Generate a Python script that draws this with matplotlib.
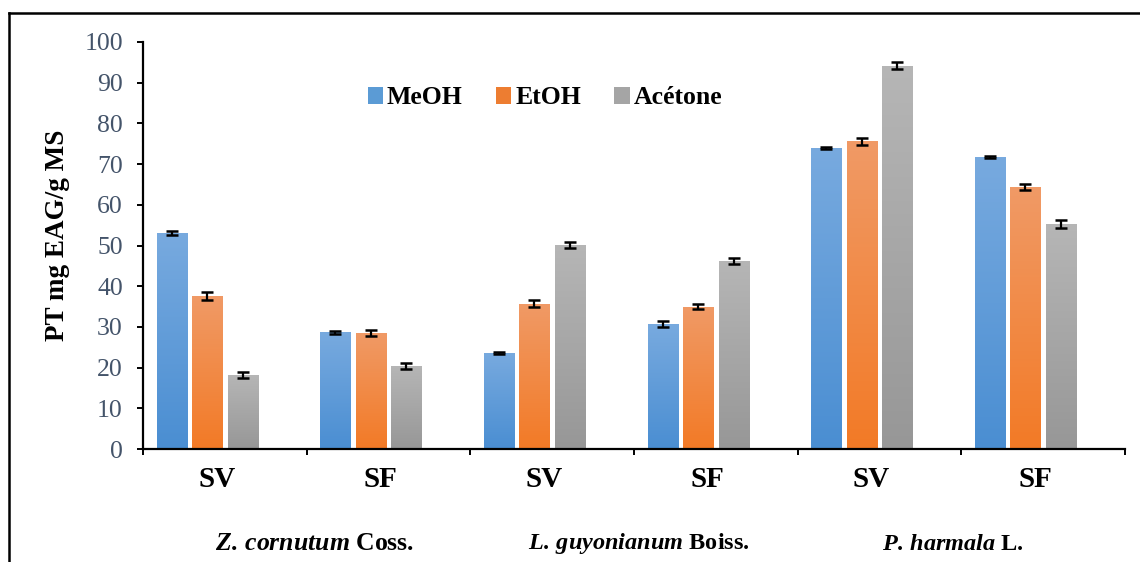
import numpy as np
import matplotlib
matplotlib.use('Agg')
import matplotlib.pyplot as plt
from matplotlib.colors import LinearSegmentedColormap
from matplotlib.lines import Line2D
from matplotlib.patches import Patch
import matplotlib.transforms as mtransforms

# ---------------- data ----------------
categories = ['SV', 'SF', 'SV', 'SF', 'SV', 'SF']
species = [r'$Z.\,cornutum$ Coss.', r'$L.\,guyonianum$ Boiss.', r'$P.\,harmala$ L.']
series = ['MeOH', 'EtOH', 'Acétone']
meoh = [53.1, 28.7, 23.6, 30.7, 74.0, 71.7]
meoh_err = [0.4, 0.4, 0.2, 0.7, 0.3, 0.3]
etoh = [37.5, 28.5, 35.7, 35.0, 75.6, 64.3]
etoh_err = [1.0, 0.7, 0.85, 0.7, 0.8, 0.75]
acetone = [18.2, 20.4, 50.2, 46.2, 94.2, 55.3]
acetone_err = [0.75, 0.7, 0.7, 0.7, 0.8, 1.0]
yticks = list(range(0, 101, 10))
ylabel = 'PT mg EAG/g MS'

values = [meoh, etoh, acetone]
errors = [meoh_err, etoh_err, acetone_err]
grad = [('#4A8ED2', '#78AADF'), ('#F37A26', '#F09A66'), ('#979797', '#B6B6B6')]
legend_cols = ['#5B9BD5', '#ED7D31', '#A5A5A5']

plt.rcParams['font.family'] = ['Liberation Serif', 'DejaVu Serif']
plt.rcParams['mathtext.fontset'] = 'custom'
plt.rcParams['mathtext.it'] = 'Liberation Serif:italic:bold'
plt.rcParams['mathtext.rm'] = 'Liberation Serif:bold'
plt.rcParams['mathtext.bf'] = 'Liberation Serif:bold'

W, H = 1140, 562
fig = plt.figure(figsize=(W / 100, H / 100), dpi=100)
ax = fig.add_axes([143 / W, 1 - 449 / H, (1125 - 143) / W, (449 - 42) / H])

x = np.arange(len(categories))
step = 0.217
width = 0.1835
offsets = [-1.5 * step, -0.5 * step, 0.5 * step]

gradient = np.linspace(1, 0, 256).reshape(-1, 1)
for s in range(3):
    cmap = LinearSegmentedColormap.from_list('g%d' % s, list(grad[s]))
    bars = ax.bar(x + offsets[s], values[s], width, facecolor='none', edgecolor='none', zorder=1)
    for b in bars:
        x0, w_, h_ = b.get_x(), b.get_width(), b.get_height()
        im = ax.imshow(gradient, cmap=cmap, extent=(x0, x0 + w_, 0, h_), aspect='auto',
                       origin='upper', zorder=1.5, interpolation='bilinear', vmin=0, vmax=1)
        im.set_clip_path(b)
    ax.errorbar(x + offsets[s], values[s], yerr=errors[s], fmt='none', ecolor='black',
                elinewidth=1.6, capsize=4.5, capthick=1.8, zorder=3)

ax.set_xlim(-0.5, len(categories) - 0.5)
ax.set_ylim(0, 100)
ax.set_aspect('auto')

for sp in ['top', 'right']:
    ax.spines[sp].set_visible(False)
for sp in ['left', 'bottom']:
    ax.spines[sp].set_linewidth(1.6)

ax.set_yticks(yticks)
ax.set_yticklabels([str(t) for t in yticks])
ax.tick_params(axis='y', direction='out', length=4.5, width=1.4, pad=10,
               labelsize=18.5, labelcolor='#44546A')

ax.set_xticks(np.arange(-0.5, len(categories), 1))
ax.set_xticklabels([])
ax.tick_params(axis='x', which='major', direction='out', length=4.5, width=1.4)
ax.set_xticks(x - 0.05, minor=True)
ax.set_xticklabels(categories, minor=True, fontsize=21, fontweight='bold')
ax.tick_params(axis='x', which='minor', length=0, pad=12)

fig.text(57 / W, 1 - 235 / H, ylabel, rotation=90, ha='center', va='center',
         fontsize=19.5, fontweight='bold')

trans = mtransforms.blended_transform_factory(ax.transData, fig.transFigure)
sp_pos = [0.55, 2.53, 4.45]
sp_size = [18.5, 17.5, 17.5]
for p, lab, fs in zip(sp_pos, species, sp_size):
    ax.text(p, 1 - 544 / H, lab, transform=trans, ha='center', va='center',
            fontsize=fs, fontweight='bold', clip_on=False)

handles = [Patch(facecolor=c, edgecolor='none') for c in legend_cols]
leg = fig.legend(handles, series, loc='center', bbox_to_anchor=(545 / W, 1 - 98 / H),
                 bbox_transform=fig.transFigure, ncol=3, frameon=False,
                 prop={'family': 'Liberation Serif', 'weight': 'bold', 'size': 18.5},
                 handlelength=0.6, handleheight=0.6, handletextpad=0.15,
                 columnspacing=1.3)

# outer frame (top and left visible)
fig.add_artist(Line2D([9 / W, 9 / W], [1 - 13 / H, 0], transform=fig.transFigure,
                      color='black', linewidth=1.8))
fig.add_artist(Line2D([9 / W, 1], [1 - 13 / H, 1 - 13 / H], transform=fig.transFigure,
                      color='black', linewidth=1.8))

fig.savefig('out.png', dpi=100)
